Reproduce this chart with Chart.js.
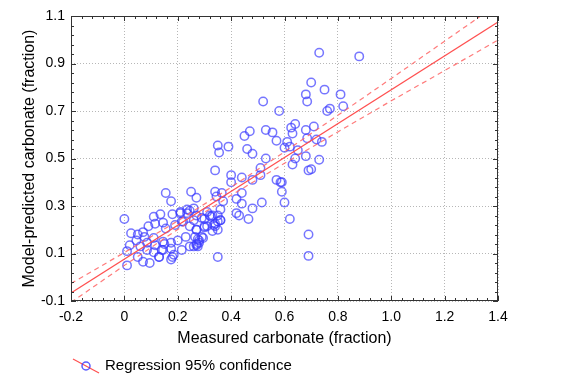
<!DOCTYPE html>
<html>
<head>
<meta charset="utf-8">
<script src="https://cdn.jsdelivr.net/npm/chart.js@4"></script>
<style>
  body { margin: 0; background: #fff; }
</style>
</head>
<body>
<canvas id="chart" width="563" height="381"></canvas>
<script>
// measured vs model-predicted carbonate (fraction)
const measured = [
  0.88, 0.73, 0.70, 0.75, 0.68, 0.685, 0.81, 0.82, 0.76, 0.77, 0.52, 0.58,
  0.64, 0.625, 0.63, 0.68, 0.71, 0.685, 0.72, 0.74, 0.65, 0.62, 0.68, 0.73, 0.64, 0.63, 0.70, 0.69,
  0.59, 0.59, 0.60, 0.62, 0.69, 0.69,
  0.45, 0.47, 0.53, 0.555, 0.57, 0.61, 0.60,
  0.35, 0.355, 0.39, 0.46, 0.48, 0.53,
  0.34, 0.40, 0.40, 0.44, 0.48, 0.51, 0.51, 0.57, 0.585,
  0.34, 0.365, 0.44, 0.345, 0.37, 0.42, 0.44, 0.515, 0.48,
  0.42, 0.43, 0.465, 0.36, 0.33, 0.35, 0.36, 0.34, 0.30, 0.30, 0.33, 0.29, 0.28, 0.35, 0.32,
  0.155, 0.175, 0.25, 0.27, 0.0, 0.11, 0.135, 0.18, 0.21, 0.235, 0.245,
  0.09, 0.115, 0.145, 0.155, 0.19, 0.215, 0.26, 0.27, 0.31,
  0.025, 0.05, 0.07, 0.045, 0.075, 0.085, 0.11, 0.115, 0.145, 0.175, 0.20, 0.23, 0.275, 0.27,
  0.02, 0.06, 0.01, 0.085, 0.11, 0.145, 0.175, 0.215, 0.245, 0.275,
  0.05, 0.07, 0.095, 0.13, 0.175, 0.01, 0.185,
  0.21, 0.235, 0.26, 0.27, 0.29, 0.31, 0.325,
  0.22, 0.245, 0.27, 0.30, 0.335, 0.36,
  0.265, 0.28, 0.295, 0.26, 0.27,
  0.35, 0.35, 0.34,
  0.15, 0.14, 0.18, 0.13
];
const predicted = [
  0.93, 0.945, 0.82, 0.79, 0.77, 0.74, 0.77, 0.72, 0.70, 0.71, 0.74, 0.70,
  0.645, 0.63, 0.605, 0.62, 0.635, 0.585, 0.58, 0.57, 0.535, 0.55, 0.51, 0.495, 0.50, 0.475, 0.455, 0.45,
  0.40, 0.36, 0.315, 0.245, 0.18, 0.09,
  0.595, 0.615, 0.62, 0.61, 0.575, 0.57, 0.545,
  0.555, 0.525, 0.55, 0.54, 0.52, 0.50,
  0.45, 0.43, 0.40, 0.42, 0.41, 0.43, 0.46, 0.41, 0.40,
  0.36, 0.355, 0.355, 0.34, 0.32, 0.33, 0.31, 0.315, 0.29,
  0.27, 0.26, 0.245, 0.285, 0.26, 0.26, 0.24, 0.225, 0.245, 0.215, 0.195, 0.17, 0.145, 0.085, 0.26,
  0.355, 0.32, 0.36, 0.335, 0.245, 0.255, 0.265, 0.265, 0.27, 0.27, 0.28,
  0.215, 0.225, 0.23, 0.205, 0.22, 0.235, 0.24, 0.20, 0.215,
  0.185, 0.18, 0.19, 0.155, 0.17, 0.145, 0.165, 0.135, 0.15, 0.145, 0.155, 0.17, 0.16, 0.14,
  0.135, 0.13, 0.11, 0.115, 0.105, 0.115, 0.12, 0.115, 0.13, 0.13,
  0.085, 0.065, 0.06, 0.085, 0.075, 0.05, 0.095,
  0.275, 0.285, 0.29, 0.26, 0.25, 0.275, 0.255,
  0.235, 0.215, 0.20, 0.21, 0.22, 0.24,
  0.17, 0.155, 0.165, 0.13, 0.135,
  0.20, 0.235, 0.215,
  0.14, 0.115, 0.085, 0.085
];

// regression line and its 95% confidence band
const regX = [-0.2, 1.4];
const regY = [-0.066, 1.075];
const bandX = [-0.2, 0, 0.2, 0.4, 0.6, 0.8, 1.0, 1.2, 1.4];
const bandUpper = [-0.026, 0.104, 0.237, 0.379, 0.528, 0.682, 0.837, 0.994, 1.151];
const bandLower = [-0.106, 0.050, 0.201, 0.345, 0.480, 0.612, 0.743, 0.870, 0.999];

const xTicks = [-0.2, 0, 0.2, 0.4, 0.6, 0.8, 1.0, 1.2, 1.4];
const yTicks = [-0.1, 0.1, 0.3, 0.5, 0.7, 0.9, 1.1];

const FONT = "'Liberation Sans', Arial, Helvetica, sans-serif";
const pts = (xs, ys) => xs.map((x, i) => ({ x: x, y: ys[i] }));
const fmt = v => (Math.abs(v) < 1e-9 ? "0" : v.toFixed(1));

// frame with small inward ticks + the legend below the axis title
const framePlugin = {
  id: "frame",
  afterDraw(chart) {
    const { ctx, chartArea: a, scales } = chart;
    const sx = scales.x, sy = scales.y;
    ctx.save();
    ctx.strokeStyle = "#333";
    ctx.lineWidth = 1;
    ctx.strokeRect(a.left + 0.5, a.top + 0.5, a.right - a.left - 1, a.bottom - a.top - 1);
    ctx.beginPath();
    for (let i = 0; i <= 40; i++) {
      const v = -0.2 + i * 0.04;
      const px = Math.round(sx.getPixelForValue(v)) + 0.5;
      const len = i % 5 === 0 ? 5 : 3;
      ctx.moveTo(px, a.bottom); ctx.lineTo(px, a.bottom - len);
      ctx.moveTo(px, a.top); ctx.lineTo(px, a.top + len);
    }
    for (let i = 0; i <= 30; i++) {
      const v = -0.1 + i * 0.04;
      const py = Math.round(sy.getPixelForValue(v)) + 0.5;
      const len = i % 5 === 0 ? 5 : 3;
      ctx.moveTo(a.left, py); ctx.lineTo(a.left + len, py);
      ctx.moveTo(a.right, py); ctx.lineTo(a.right - len, py);
    }
    ctx.stroke();

    // legend
    ctx.strokeStyle = "rgb(255,80,80)";
    ctx.lineWidth = 1.2;
    ctx.beginPath();
    ctx.moveTo(73, 359);
    ctx.lineTo(99, 373);
    ctx.stroke();
    ctx.strokeStyle = "rgba(50,50,255,0.8)";
    ctx.lineWidth = 1.5;
    ctx.beginPath();
    ctx.arc(86, 366, 4, 0, Math.PI * 2);
    ctx.stroke();
    ctx.fillStyle = "#000";
    ctx.font = "15px " + FONT;
    ctx.textBaseline = "middle";
    ctx.fillText("Regression 95% confidence", 105, 366);
    ctx.restore();
  }
};

const ctx = document.getElementById("chart").getContext("2d");
new Chart(ctx, {
  type: "scatter",
  data: {
    datasets: [
      {
        type: "line",
        label: "Regression",
        data: pts(regX, regY),
        borderColor: "rgb(255,80,80)",
        borderWidth: 1.2,
        pointRadius: 0,
        fill: false
      },
      {
        type: "line",
        label: "Upper 95%",
        data: pts(bandX, bandUpper),
        borderColor: "rgba(255,100,100,0.85)",
        borderWidth: 1.2,
        borderDash: [5, 4],
        pointRadius: 0,
        fill: false
      },
      {
        type: "line",
        label: "Lower 95%",
        data: pts(bandX, bandLower),
        borderColor: "rgba(255,100,100,0.85)",
        borderWidth: 1.2,
        borderDash: [5, 4],
        pointRadius: 0,
        fill: false
      },
      {
        label: "Samples",
        data: pts(measured, predicted),
        pointStyle: "circle",
        pointRadius: 4.2,
        pointBorderWidth: 1.5,
        pointBorderColor: "rgba(60,60,255,0.7)",
        pointBackgroundColor: "rgba(0,0,0,0)"
      }
    ]
  },
  options: {
    responsive: false,
    animation: false,
    layout: { padding: { left: 20, top: 16, right: 65, bottom: 33 } },
    plugins: { legend: { display: false }, tooltip: { enabled: false } },
    scales: {
      x: {
        type: "linear",
        min: -0.2,
        max: 1.4,
        afterBuildTicks: s => { s.ticks = xTicks.map(v => ({ value: v })); },
        afterFit: s => { s.height = 47; },
        grid: { color: "rgba(175,175,175,0.9)", lineWidth: 1, drawTicks: false },
        border: { display: false, dash: [1, 2] },
        ticks: { padding: 8, color: "#000", font: { family: FONT, size: 14 }, callback: v => fmt(v), maxRotation: 0 },
        title: { display: true, text: "Measured carbonate (fraction)", color: "#000", padding: 0, font: { family: FONT, size: 16 } }
      },
      y: {
        type: "linear",
        min: -0.1,
        max: 1.1,
        afterBuildTicks: s => { s.ticks = yTicks.map(v => ({ value: v })); },
        afterFit: s => { s.width = 51; },
        grid: { color: "rgba(175,175,175,0.9)", lineWidth: 1, drawTicks: false },
        border: { display: false, dash: [1, 2] },
        ticks: { padding: 6, color: "#000", font: { family: FONT, size: 14 }, callback: v => fmt(v) },
        title: { display: true, text: "Model-predicted carbonate (fraction)", color: "#000", padding: 0, font: { family: FONT, size: 16 } }
      }
    }
  },
  plugins: [framePlugin]
});
</script>
</body>
</html>
